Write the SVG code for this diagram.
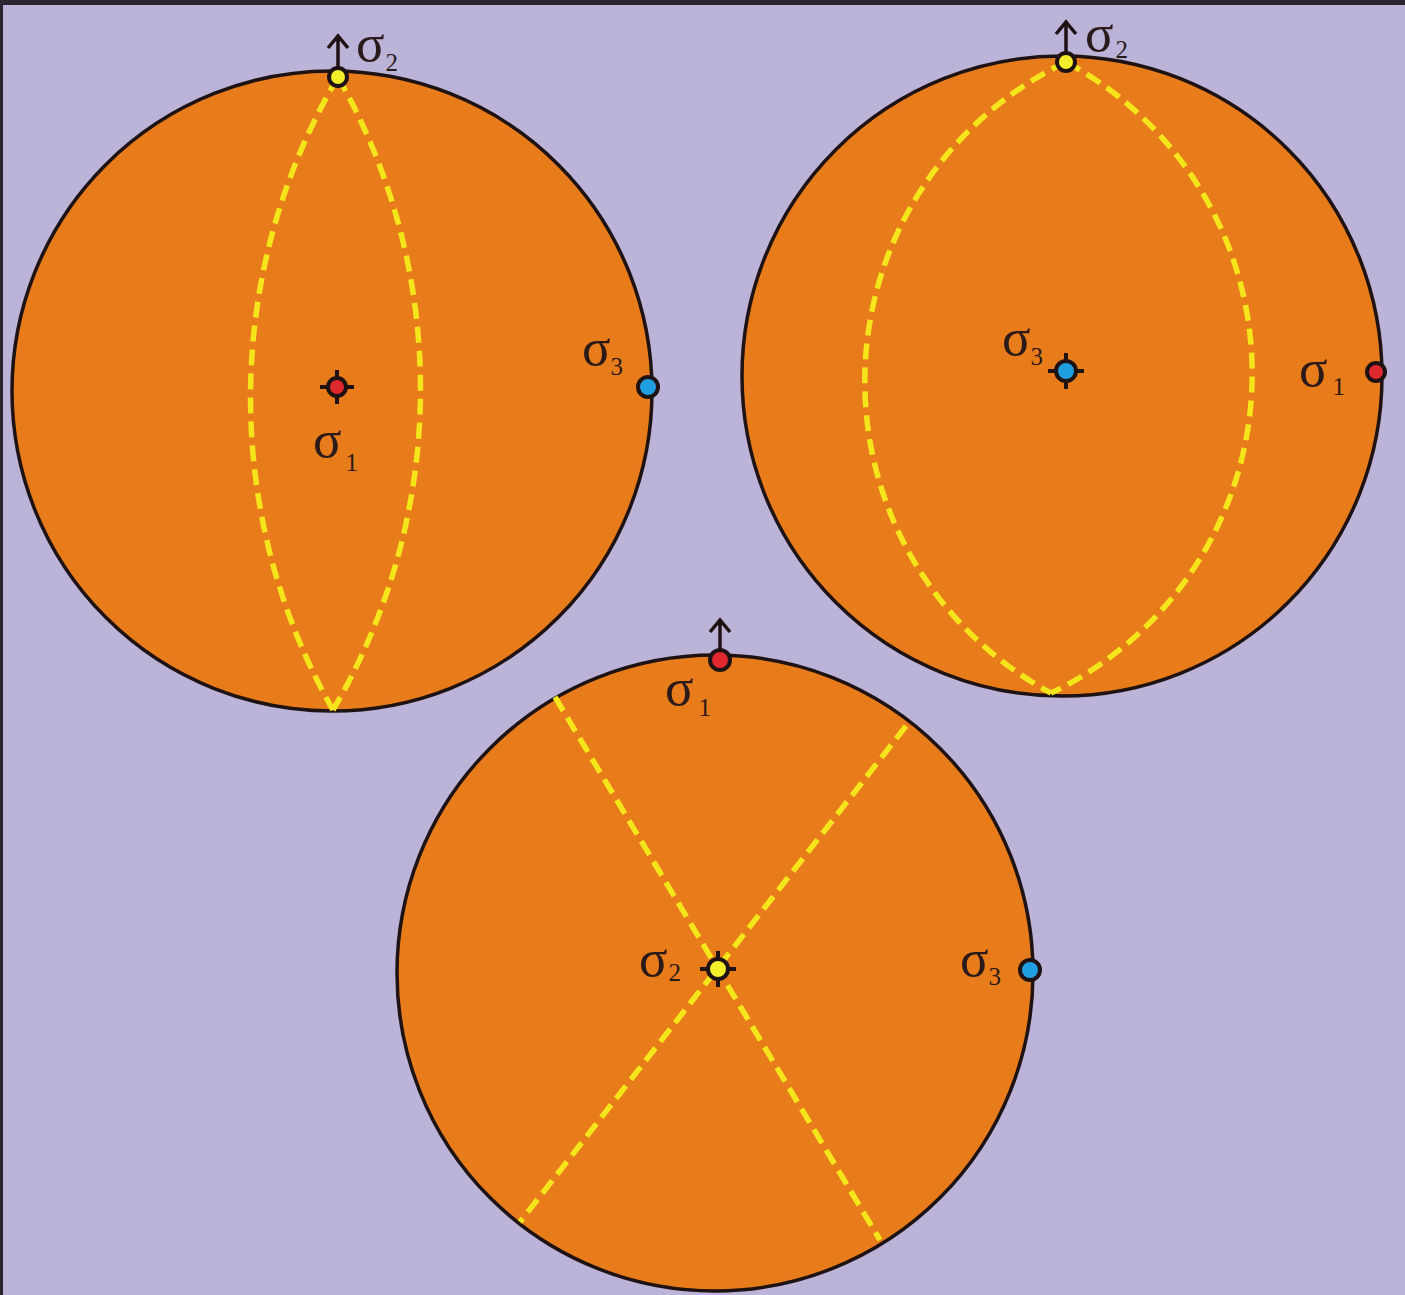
<svg xmlns="http://www.w3.org/2000/svg" width="1405" height="1295" viewBox="0 0 1405 1295">
<defs>
<style>
.disk{fill:#e87b1a;stroke:#1e1212;stroke-width:3.5}
.dash{fill:none;stroke:#f5e61c;stroke-width:5.5;stroke-dasharray:16 8}
.pt{stroke:#1e1212;stroke-width:4}
.tick{stroke:#1e1212;stroke-width:4}
.arr{fill:none;stroke:#1e1212;stroke-width:3.5}
.sig{font-family:"Liberation Serif","DejaVu Serif",serif;font-size:53px;fill:#2a1a1a}
.sub{font-size:25px}
</style>
</defs>
<rect x="0" y="0" width="1405" height="1295" fill="#bcb3d9"/>
<rect x="0" y="0" width="1405" height="5" fill="#2a2530"/>
<rect x="0" y="0" width="3" height="1295" fill="#2a2530"/>

<g id="stereonet-1">
<circle class="disk" cx="332" cy="391" r="320"/>
<path class="dash" d="M338,77 A632,632 0 0 0 333,710"/>
<path class="dash" d="M338,77 A632,632 0 0 1 333,710"/>
</g>
<g id="stereonet-2">
<circle class="disk" cx="1062" cy="376" r="320"/>
<path class="dash" d="M1066,62 A354,354 0 0 0 1051,693"/>
<path class="dash" d="M1066,62 A354,354 0 0 1 1051,693"/>
</g>
<g id="stereonet-3">
<circle class="disk" cx="715" cy="973" r="318"/>
<path class="dash" d="M555,697 L880,1240"/>
<path class="dash" d="M906,726 L520,1222"/>
</g>

<g id="connectors">
<path class="arr" d="M338,68 V36 M328,48 L338,36 L348,48"/>
<path class="arr" d="M1066,53 V22 M1056,34 L1066,22 L1076,34"/>
<path class="arr" d="M720,651 V620 M710,632 L720,620 L730,632"/>
</g>

<g id="n1-sigma2">
<circle class="pt" cx="338" cy="77" r="9" fill="#f5ee2a"/>
<text class="sig" x="356" y="61">σ<tspan class="sub" dx="1" dy="10">2</tspan></text>
</g>
<g id="n1-sigma1">
<path class="tick" d="M337,370 V404 M320,387 H354"/>
<circle class="pt" cx="337" cy="387" r="9" fill="#e0282f"/>
<text class="sig" x="313" y="457">σ<tspan class="sub" dx="4" dy="14">1</tspan></text>
</g>
<g id="n1-sigma3">
<circle class="pt" cx="648" cy="387" r="10" fill="#1f9ee0"/>
<text class="sig" x="582" y="365">σ<tspan class="sub" dx="0" dy="10">3</tspan></text>
</g>

<g id="n2-sigma2">
<circle class="pt" cx="1066" cy="62" r="9" fill="#f5ee2a"/>
<text class="sig" x="1085" y="51">σ<tspan class="sub" dx="2" dy="7">2</tspan></text>
</g>
<g id="n2-sigma3">
<path class="tick" d="M1066,353 V389 M1048,371 H1084"/>
<circle class="pt" cx="1066" cy="371" r="10" fill="#1f9ee0"/>
<text class="sig" x="1002" y="355">σ<tspan class="sub" dx="0" dy="10">3</tspan></text>
</g>
<g id="n2-sigma1">
<circle class="pt" cx="1376" cy="372" r="9" fill="#e0282f"/>
<text class="sig" x="1299" y="386">σ<tspan class="sub" dx="5" dy="9">1</tspan></text>
</g>

<g id="n3-sigma1">
<circle class="pt" cx="720" cy="660" r="10" fill="#e0282f"/>
<text class="sig" x="665" y="705">σ<tspan class="sub" dx="5" dy="11">1</tspan></text>
</g>
<g id="n3-sigma2">
<path class="tick" d="M718,951 V987 M700,969 H736"/>
<circle class="pt" cx="718" cy="969" r="10" fill="#f5ee2a"/>
<text class="sig" x="639" y="976">σ<tspan class="sub" dx="1" dy="5">2</tspan></text>
</g>
<g id="n3-sigma3">
<circle class="pt" cx="1030" cy="970" r="10" fill="#1f9ee0"/>
<text class="sig" x="960" y="976">σ<tspan class="sub" dx="0" dy="9">3</tspan></text>
</g>
</svg>
